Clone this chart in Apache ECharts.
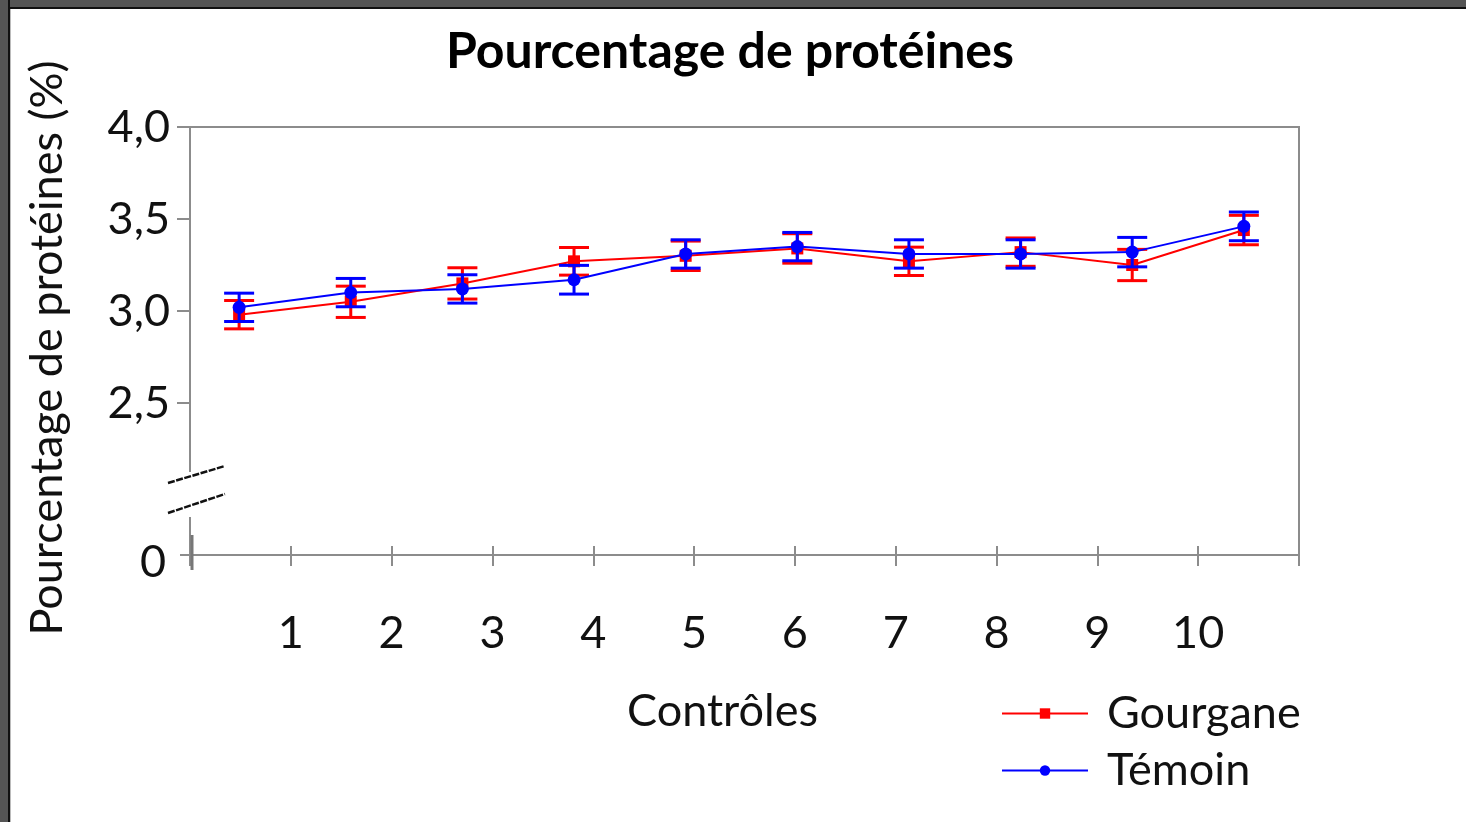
<!DOCTYPE html>
<html>
<head>
<meta charset="utf-8">
<script src="https://cdn.jsdelivr.net/npm/echarts@6/dist/echarts.min.js"></script>
<style>
html,body{margin:0;padding:0;background:#fff;}
#chart{width:1466px;height:822px;}
</style>
</head>
<body>
<div id="chart"></div>
<script>
// ---- data ----
const categories = [1, 2, 3, 4, 5, 6, 7, 8, 9, 10];
const xTickLabels = ['1', '2', '3', '4', '5', '6', '7', '8', '9', '10'];
const gourgane    = [2.98, 3.05, 3.15, 3.27, 3.30, 3.34, 3.27, 3.32, 3.25, 3.44];
const gourganeErr = [0.077, 0.085, 0.085, 0.075, 0.08, 0.08, 0.077, 0.077, 0.085, 0.08];
const temoin      = [3.02, 3.10, 3.12, 3.17, 3.31, 3.35, 3.31, 3.31, 3.32, 3.46];
const temoinErr   = [0.077, 0.077, 0.077, 0.078, 0.077, 0.077, 0.077, 0.077, 0.08, 0.078];
const yTickValues = [2.5, 3.0, 3.5, 4.0];
const yBreakBottom = 1.674; // axis bottom, labelled "0" (broken axis)

const FONT = 'Lato';
const FS = 45;
const RED = '#ff0000', BLUE = '#0000ff', AXIS = '#8c8c8c';

const chart = echarts.init(document.getElementById('chart'), null, {renderer: 'canvas'});

function errData(vals, errs) {
  return categories.map((c, i) => [c, vals[i] - errs[i], vals[i] + errs[i]]);
}
function errRender(color) {
  return function (params, api) {
    const x = api.value(0);
    const lo = api.coord([x, api.value(1)]);
    const hi = api.coord([x, api.value(2)]);
    const cap = 15;
    const style = {stroke: color, lineWidth: 3};
    return {
      type: 'group',
      children: [
        {type: 'line', shape: {x1: lo[0], y1: lo[1], x2: hi[0], y2: hi[1]}, style: style},
        {type: 'line', shape: {x1: lo[0] - cap, y1: lo[1], x2: lo[0] + cap, y2: lo[1]}, style: style},
        {type: 'line', shape: {x1: hi[0] - cap, y1: hi[1], x2: hi[0] + cap, y2: hi[1]}, style: style}
      ]
    };
  };
}

const option = {
  backgroundColor: '#fff',
  animation: false,
  title: {
    text: 'Pourcentage de protéines',
    left: 725, top: 22, textAlign: 'center',
    textStyle: {fontFamily: FONT, fontWeight: 'bold', fontSize: 50, color: '#000'}
  },
  legend: {
    orient: 'vertical', left: 996, top: 685,
    itemWidth: 86, itemHeight: 13, itemGap: 10,
    data: ['Gourgane', 'Témoin'],
    textStyle: {fontFamily: FONT, fontSize: FS, color: '#111', lineHeight: 47, padding: [0, 0, 0, 14]}
  },
  grid: {
    left: 190, top: 127, width: 1109, height: 428,
    containLabel: false, outerBoundsMode: 'none',
    show: true, borderColor: AXIS, borderWidth: 2, backgroundColor: 'transparent'
  },
  xAxis: [
    {type: 'value', min: 0.56, max: 10.494, show: false},
    {
      type: 'value', min: 0, max: 11, interval: 1, position: 'bottom',
      name: 'Contrôles', nameLocation: 'middle', nameGap: 134,
      nameTextStyle: {fontFamily: FONT, fontSize: FS, color: '#111', padding: [0, 44, 0, 0]},
      axisLine: {show: true, lineStyle: {color: AXIS, width: 2}},
      axisTick: {show: true, inside: false, length: 11, lineStyle: {color: AXIS, width: 2}},
      axisLabel: {
        show: true, margin: 56, fontFamily: FONT, fontSize: FS, color: '#111',
        formatter: v => (v >= 1 && v <= 10) ? xTickLabels[v - 1] : ''
      },
      splitLine: {show: false}
    },
    {
      type: 'value', min: 0, max: 11, interval: 1, position: 'bottom',
      axisLine: {show: false},
      axisTick: {show: true, inside: true, length: 9, lineStyle: {color: AXIS, width: 2}},
      axisLabel: {show: false},
      splitLine: {show: false}
    }
  ],
  yAxis: {
    type: 'value', min: yBreakBottom, max: 4.0,
    name: 'Pourcentage de protéines (%)', nameLocation: 'middle', nameGap: 120, nameRotate: 90,
    nameTextStyle: {fontFamily: FONT, fontSize: FS, color: '#111', padding: [0, 14, 0, 0]},
    axisLine: {show: true, lineStyle: {color: AXIS, width: 2}},
    axisTick: {show: true, inside: false, length: 13, customValues: yTickValues, lineStyle: {color: AXIS, width: 2}},
    axisLabel: {
      show: true, margin: 20, fontFamily: FONT, fontSize: FS, color: '#111',
      customValues: [yBreakBottom].concat(yTickValues),
      formatter: v => v < 2 ? '{z|0}' : v.toFixed(1).replace('.', ','),
      rich: {z: {fontFamily: FONT, fontSize: FS, color: '#111', padding: [14, 4, 0, 0]}}
    },
    splitLine: {show: false}
  },
  series: [
    {
      name: 'Gourgane-err', type: 'custom', xAxisIndex: 0, z: 1,
      renderItem: errRender(RED), data: errData(gourgane, gourganeErr), silent: true
    },
    {
      name: 'Gourgane', type: 'line', xAxisIndex: 0, z: 2,
      data: categories.map((c, i) => [c, gourgane[i]]),
      symbol: 'rect', symbolSize: 12,
      lineStyle: {color: RED, width: 2}, itemStyle: {color: RED}
    },
    {
      name: 'Témoin-err', type: 'custom', xAxisIndex: 0, z: 3,
      renderItem: errRender(BLUE), data: errData(temoin, temoinErr), silent: true
    },
    {
      name: 'Témoin', type: 'line', xAxisIndex: 0, z: 4,
      data: categories.map((c, i) => [c, temoin[i]]),
      symbol: 'circle', symbolSize: 13,
      lineStyle: {color: BLUE, width: 2}, itemStyle: {color: BLUE}
    }
  ]
};
chart.setOption(option);

// decorations: frame, axis break marks
const gl = 190, gb = 555;
chart.setOption({
  graphic: [
    {type: 'rect', shape: {x: 0, y: 0, width: 1466, height: 7}, style: {fill: '#555'}, z: 100},
    {type: 'rect', shape: {x: 0, y: 7, width: 1466, height: 2}, style: {fill: '#111'}, z: 100},
    {type: 'rect', shape: {x: 0, y: 0, width: 8, height: 822}, style: {fill: '#555'}, z: 100},
    {type: 'rect', shape: {x: 8, y: 0, width: 2, height: 822}, style: {fill: '#111'}, z: 100},
    {type: 'rect', shape: {x: 10, y: 9, width: 1, height: 813}, style: {fill: '#bbb'}, z: 100},
    // break gap in y axis
    {type: 'rect', shape: {x: gl - 4, y: gb - 83, width: 8, height: 45}, style: {fill: '#fff'}, z: 50},
    {type: 'line', shape: {x1: gl - 22, y1: gb - 72, x2: gl + 35, y2: gb - 89}, style: {stroke: '#111', lineWidth: 2.5, lineDash: [7, 1.5]}, z: 51},
    {type: 'line', shape: {x1: gl - 22, y1: gb - 42, x2: gl + 35, y2: gb - 61}, style: {stroke: '#111', lineWidth: 2.5, lineDash: [7, 1.5]}, z: 51},
    // x axis extension and origin mark
    {type: 'line', shape: {x1: gl - 10, y1: gb, x2: gl, y2: gb}, style: {stroke: AXIS, lineWidth: 2}, z: 40},
    {type: 'line', shape: {x1: gl + 2, y1: gb - 20, x2: gl + 2, y2: gb + 15}, style: {stroke: '#777', lineWidth: 3}, z: 40}
  ]
});
</script>
</body>
</html>
